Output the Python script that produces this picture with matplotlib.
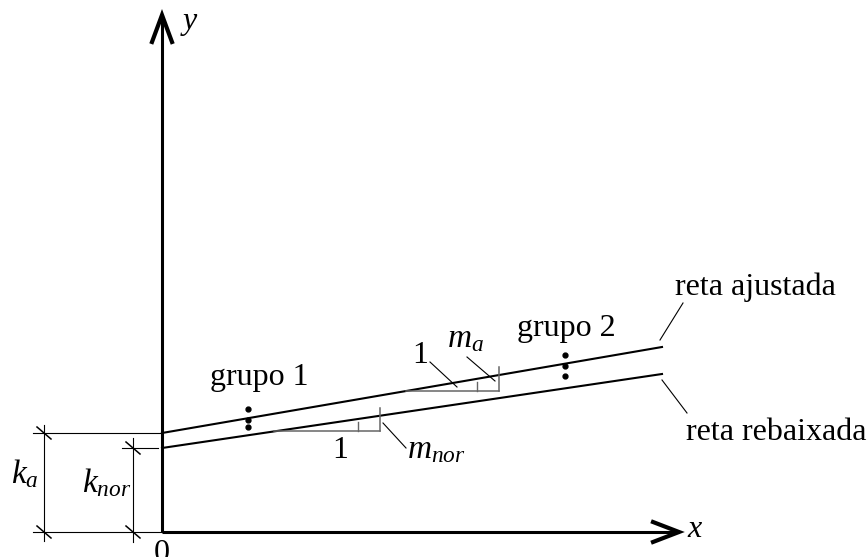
import matplotlib.pyplot as plt

plt.rcParams['font.family'] = 'Liberation Serif'
plt.rcParams['mathtext.fontset'] = 'custom'
plt.rcParams['mathtext.rm'] = 'Liberation Serif'
plt.rcParams['mathtext.it'] = 'Liberation Serif:italic'

# straight lines y = k + m*x
k_a, m_a = 99, 0.172        # reta ajustada
k_nor, m_nor = 84, 0.148    # reta rebaixada
x_end = 500

# the two groups of points
grupo1_x = 86
grupo1_y = [123, 112, 105]
grupo2_x = 403
grupo2_y = [177, 166, 156]

# slope triangles (corner x, horizontal run) for each line
tri_a = (337, 93)
tri_nor = (218, 106)

axis_len = 517
fs = 23
fs_math = 24


def slope_triangle(ax, k, m, corner, run):
    x0 = corner - run
    yh = k + m * x0
    ax.plot([x0, corner], [yh, yh], color='#666666', lw=1.1)
    ax.plot([corner, corner], [yh, k + m * corner + 8], color='#666666', lw=1.1)
    ax.plot([corner - 22, corner - 22], [yh, yh + 9], color='#666666', lw=1.0)


def dim_tick(ax, x, y):
    ax.plot([x - 7, x + 7], [y + 6, y - 6], color='black', lw=1.1)


fig = plt.figure(figsize=(8.67, 5.57), dpi=100)
ax = fig.add_axes([0, 0, 1, 1])
ax.set_xlim(-162, 705)
ax.set_ylim(-25, 532)
ax.axis('off')

# axes with open arrow heads
ax.plot([0, 0], [0, axis_len], color='black', lw=2.2, solid_capstyle='butt')
ax.plot([0, axis_len], [0, 0], color='black', lw=2.2, solid_capstyle='butt')
ax.plot([-10, 0, 10], [axis_len - 27, axis_len, axis_len - 27], color='black', lw=3,
        solid_joinstyle='miter')
ax.plot([axis_len - 26, axis_len, axis_len - 26], [10, 0, -10], color='black', lw=3,
        solid_joinstyle='miter')
ax.text(21, 503, 'y', fontsize=fs, style='italic', va='baseline')
ax.text(525, -5, 'x', fontsize=fs, style='italic', va='baseline')
ax.text(0, -29, '0', fontsize=fs, ha='center', va='baseline')

# the two lines
ax.plot([0, x_end], [k_a, k_a + m_a * x_end], color='black', lw=1.5)
ax.plot([0, x_end], [k_nor, k_nor + m_nor * x_end], color='black', lw=1.5)

# groups of points
ax.plot([grupo1_x] * len(grupo1_y), grupo1_y, 'o', color='black', ms=3.5)
ax.plot([grupo2_x] * len(grupo2_y), grupo2_y, 'o', color='black', ms=3.5)
ax.text(48, 147, 'grupo 1', fontsize=fs, va='baseline')
ax.text(355, 196, 'grupo 2', fontsize=fs, va='baseline')

# slope triangles and their labels
slope_triangle(ax, k_a, m_a, *tri_a)
slope_triangle(ax, k_nor, m_nor, *tri_nor)
ax.plot([268, 295], [170, 145], color='black', lw=0.8)
ax.plot([305, 333], [175, 151], color='black', lw=0.8)
ax.text(258, 169, '1', fontsize=fs, ha='center', va='baseline')
ax.text(285, 185, '$m_a$', fontsize=fs_math, va='baseline')
ax.plot([221, 244], [109, 84], color='black', lw=0.8)
ax.text(178, 74, '1', fontsize=fs, ha='center', va='baseline')
ax.text(245, 74, '$m_{nor}$', fontsize=fs_math, va='baseline')

# line names
ax.plot([498, 521], [192, 229], color='black', lw=0.8)
ax.plot([500, 525], [152, 119], color='black', lw=0.8)
ax.text(513, 237, 'reta ajustada', fontsize=fs, va='baseline')
ax.text(524, 92, 'reta rebaixada', fontsize=fs, va='baseline')

# intercept dimensions
ax.plot([-129, 0], [0, 0], color='black', lw=0.8)
ax.plot([-129, -2], [k_a, k_a], color='black', lw=0.8)
ax.plot([-40, -4], [k_nor, k_nor], color='black', lw=0.8)
ax.plot([-118, -118], [-9, k_a + 8], color='black', lw=0.8)
ax.plot([-29, -29], [-10, k_nor + 10], color='black', lw=0.8)
for x, y in [(-118, 0), (-118, k_a), (-29, 0), (-29, k_nor)]:
    dim_tick(ax, x, y)
ax.text(-151, 49, '$k_a$', fontsize=fs_math, va='baseline')
ax.text(-80, 40, '$k_{nor}$', fontsize=fs_math, va='baseline')

fig.savefig('out.png', dpi=100)
